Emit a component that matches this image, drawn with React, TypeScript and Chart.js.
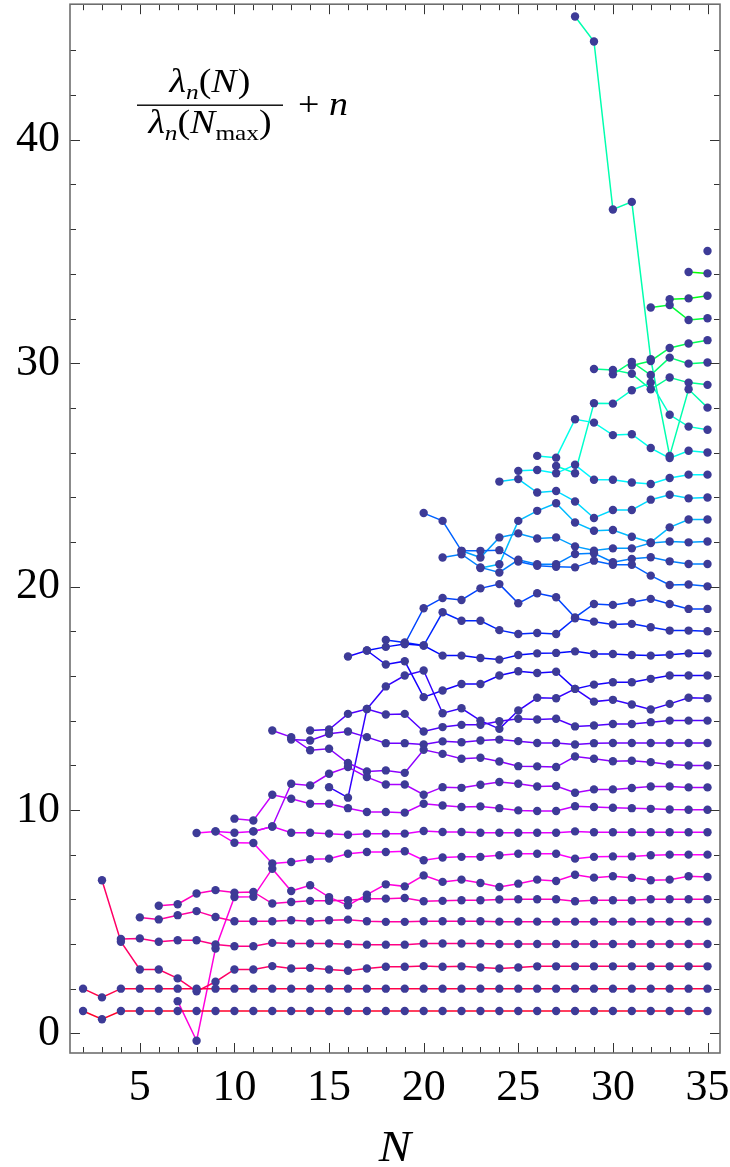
import React, { useEffect, useRef } from "react";
import { Chart, registerables } from "chart.js";

Chart.register(...registerables);

// ---- axes ----
const xTickLabels = [5, 10, 15, 20, 25, 30, 35];
const yTickLabels = [0, 10, 20, 30, 40];
const xMinorTicks = [2, 3, 4, 5, 6, 7, 8, 9, 10, 11, 12, 13, 14, 15, 16, 17, 18, 19, 20, 21, 22, 23, 24, 25, 26, 27, 28, 29, 30, 31, 32, 33, 34, 35];
const yMinorTicks = [0, 2, 4, 6, 8, 10, 12, 14, 16, 18, 20, 22, 24, 26, 28, 30, 32, 34, 36, 38, 40, 42, 44];

// ---- first N of each series n ----
const seriesStartN = [2, 2, 3, 4, 5, 6, 7, 8, 9, 10, 11, 12, 13, 14, 15, 16, 17, 18, 19, 20, 21, 22, 23, 24, 25, 26, 27, 28, 29, 30, 31, 32, 33, 34, 35];

// ---- values lambda_n(N)/lambda_n(Nmax) + n, from the first N up to N = 35 ----
const s0 = [1.0, 0.63, 1.0, 1.0, 1.0, 1.0, 1.0, 1.0, 1.0, 1.0, 1.0, 1.0, 1.0, 1.0, 1.0, 1.0, 1.0, 1.0, 1.0, 1.0, 1.0, 1.0, 1.0, 1.0, 1.0, 1.0, 1.0, 1.0, 1.0, 1.0, 1.0, 1.0, 1.0, 1.0];
const s1 = [2.0, 1.61, 2.0, 2.0, 2.0, 2.0, 2.0, 2.0, 2.0, 2.0, 2.0, 2.0, 2.0, 2.0, 2.0, 2.0, 2.0, 2.0, 2.0, 2.0, 2.0, 2.0, 2.0, 2.0, 2.0, 2.0, 2.0, 2.0, 2.0, 2.0, 2.0, 2.0, 2.0, 2.0];
const s2 = [6.85, 4.1, 2.86, 2.86, 2.46, 1.88, 2.31, 2.86, 2.86, 3.01, 2.9, 2.93, 2.86, 2.8, 2.9, 2.98, 2.98, 3.01, 2.98, 3.0, 2.95, 2.9, 2.95, 3.0, 3.0, 3.0, 3.0, 3.0, 3.0, 3.0, 3.0, 3.0, 3.0];
const s3 = [4.22, 4.25, 4.1, 4.17, 4.17, 3.98, 3.9, 3.9, 4.05, 4.02, 4.02, 4.02, 3.99, 3.97, 3.97, 3.97, 4.02, 4.02, 4.02, 4.02, 4.0, 4.0, 4.0, 4.0, 4.0, 4.0, 4.0, 4.0, 4.0, 4.0, 4.0, 4.0];
const s4 = [5.19, 5.1, 5.29, 5.47, 5.21, 5.02, 5.02, 5.02, 5.06, 5.02, 5.06, 5.09, 5.02, 4.99, 4.99, 5.02, 5.02, 5.02, 5.02, 5.0, 5.0, 5.0, 5.0, 5.0, 5.0, 5.0, 5.0, 5.0, 5.0, 5.0, 5.0];
const s5 = [5.71, 5.78, 6.26, 6.41, 6.3, 6.33, 5.81, 5.88, 5.93, 5.93, 5.96, 6.03, 6.03, 6.06, 5.91, 5.93, 5.96, 5.96, 5.99, 6.0, 6.0, 6.0, 5.91, 5.96, 5.96, 5.96, 6.0, 6.0, 6.0, 6.0];
const s6 = [1.44, -0.33, 3.8, 6.1, 6.11, 7.37, 6.37, 6.63, 6.1, 5.73, 6.21, 6.67, 6.58, 7.07, 6.78, 6.88, 6.73, 6.55, 6.7, 6.88, 6.82, 7.1, 6.97, 7.03, 6.96, 6.85, 6.88, 7.03, 7.0];
const s7 = [8.97, 9.04, 8.53, 8.52, 7.6, 7.67, 7.79, 7.82, 8.04, 8.12, 8.12, 8.15, 7.75, 7.87, 7.9, 7.9, 7.97, 8.04, 8.04, 8.04, 7.82, 7.9, 7.92, 7.92, 7.97, 8.0, 8.0, 8.0];
const s8 = [9.04, 8.98, 9.04, 9.26, 8.98, 8.98, 8.94, 8.89, 8.94, 8.94, 8.94, 9.06, 9.01, 9.01, 8.98, 8.98, 8.98, 8.98, 8.98, 9.04, 9.0, 9.0, 9.0, 9.0, 9.0, 9.0, 9.0];
const s9 = [9.61, 9.53, 10.68, 10.5, 10.28, 10.28, 10.08, 9.91, 9.91, 9.88, 10.28, 10.2, 10.13, 10.16, 10.08, 9.98, 9.95, 9.95, 10.17, 10.13, 10.1, 10.08, 10.05, 10.02, 10.01, 10.01];
const s10 = [9.04, 9.26, 11.17, 11.1, 11.62, 11.92, 11.47, 11.14, 11.14, 10.68, 11.02, 10.99, 11.13, 11.25, 11.17, 11.05, 11.07, 10.77, 10.92, 10.92, 10.98, 11.05, 11.05, 11.01, 11.01];
const s11 = [13.56, 13.26, 12.67, 12.74, 12.1, 11.72, 11.77, 11.66, 12.69, 12.51, 12.29, 12.34, 12.17, 11.96, 11.95, 11.92, 12.39, 12.29, 12.18, 12.2, 12.14, 12.04, 11.99, 11.99];
const s12 = [13.15, 13.11, 13.41, 13.51, 13.26, 12.99, 12.99, 12.93, 13.07, 13.03, 13.11, 13.15, 13.08, 13.0, 13.0, 12.93, 12.99, 13.0, 13.0, 13.0, 13.0, 13.0, 13.0];
const s13 = [13.56, 13.6, 14.3, 14.52, 14.27, 14.3, 13.51, 13.71, 13.81, 13.81, 13.97, 14.08, 14.05, 14.08, 13.74, 13.78, 13.85, 13.85, 13.93, 14.0, 14.0, 14.0];
const s14 = [11.02, 10.55, 14.52, 15.53, 16.02, 16.24, 14.33, 14.55, 14.0, 13.63, 14.45, 15.02, 15.0, 15.42, 14.85, 14.93, 14.72, 14.5, 14.75, 15.02, 15.0];
const s15 = [16.87, 17.14, 16.51, 16.66, 15.05, 15.35, 15.64, 15.64, 16.02, 16.21, 16.13, 16.19, 15.42, 15.61, 15.72, 15.72, 15.87, 16.02, 16.02, 16.02];
const s16 = [17.14, 17.3, 17.43, 17.36, 16.91, 16.91, 16.8, 16.73, 16.94, 17.01, 17.03, 17.1, 16.98, 16.98, 16.94, 16.91, 16.95, 17.01, 17.01];
const s17 = [17.61, 17.5, 17.36, 18.85, 18.47, 18.47, 18.05, 17.88, 17.92, 17.88, 18.58, 18.43, 18.3, 18.33, 18.18, 18.03, 18.03, 18.0];
const s18 = [17.43, 19.03, 19.49, 19.4, 19.92, 20.11, 19.25, 19.7, 19.52, 18.62, 19.22, 19.18, 19.3, 19.45, 19.22, 19.0, 19.0];
const s19 = [23.29, 22.94, 21.6, 21.6, 21.63, 21.12, 20.93, 20.89, 20.86, 21.16, 20.98, 20.98, 20.49, 20.07, 20.09, 20.01];
const s20 = [21.3, 21.45, 20.86, 20.63, 21.2, 21.0, 21.0, 21.46, 21.49, 21.09, 21.24, 21.31, 21.13, 21.01, 21.01];
const s21 = [21.6, 21.3, 22.2, 22.38, 22.15, 22.2, 21.8, 21.61, 21.71, 21.71, 21.95, 22.02, 21.98, 22.02];
const s22 = [20.83, 21.0, 22.94, 23.39, 23.73, 22.87, 22.5, 22.53, 22.23, 21.98, 22.65, 23.0, 23.0];
const s23 = [24.7, 24.81, 24.21, 24.28, 23.81, 23.07, 23.43, 23.43, 23.89, 24.11, 23.95, 23.99];
const s24 = [25.18, 25.22, 25.07, 25.45, 24.78, 24.78, 24.66, 24.59, 24.86, 25.01, 25.01];
const s25 = [25.85, 25.77, 27.49, 27.34, 26.78, 26.82, 26.2, 25.75, 26.08, 26.0];
const s26 = [25.4, 25.07, 28.21, 28.19, 28.79, 29.13, 27.69, 27.16, 27.02];
const s27 = [45.52, 44.4, 36.88, 37.22, 30.18, 25.85, 28.83, 28.01];
const s28 = [29.74, 29.7, 29.53, 28.83, 29.36, 29.13, 29.03];
const s29 = [29.5, 30.06, 29.47, 30.25, 29.98, 30.03];
const s30 = [29.9, 30.1, 30.68, 30.88, 31.03];
const s31 = [32.49, 32.6, 31.93, 32.01];
const s32 = [32.86, 32.9, 33.02];
const s33 = [34.08, 34.02];
const s34 = [35.02];

const seriesValues = [s0, s1, s2, s3, s4, s5, s6, s7, s8, s9, s10, s11, s12, s13, s14, s15, s16, s17, s18, s19, s20, s21, s22, s23, s24, s25, s26, s27, s28, s29, s30, s31, s32, s33, s34];

const FONT = "'Liberation Serif', 'DejaVu Serif', serif";
const POINT_COLOR = "#3d3b97";

function seriesColor(k: number): string {
  const hue = (350 - 7 * k + 360) % 360;
  return `hsl(${hue}, 100%, 50%)`;
}

function drawPieces(ctx: CanvasRenderingContext2D, pieces: { t: string; f: string; dy?: number; gap?: number }[], cx: number, baseline: number, sx: number) {
  let total = 0;
  const widths = pieces.map((p) => {
    ctx.font = p.f;
    const w = ctx.measureText(p.t).width + (p.gap || 0);
    total += w;
    return w;
  });
  let x = cx - (total * sx) / 2;
  pieces.forEach((p, i) => {
    ctx.save();
    ctx.font = p.f;
    ctx.translate(x, baseline + (p.dy || 0));
    ctx.scale(sx, 1);
    ctx.fillText(p.t, 0, 0);
    ctx.restore();
    x += widths[i] * sx;
  });
  return total * sx;
}

const decorPlugin = {
  id: "decor",
  afterDraw(chart: any) {
    const { ctx, chartArea } = chart;
    const { left, right, top, bottom } = chartArea;
    const xs = chart.scales.x;
    const ys = chart.scales.y;
    ctx.save();
    // ticks (inward, all four sides)
    ctx.strokeStyle = "#333";
    ctx.lineWidth = 1;
    ctx.beginPath();
    xMinorTicks.forEach((v) => {
      const px = Math.round(xs.getPixelForValue(v)) + 0.5;
      const len = xTickLabels.includes(v) ? 10 : 6;
      ctx.moveTo(px, bottom);
      ctx.lineTo(px, bottom - len);
      ctx.moveTo(px, top);
      ctx.lineTo(px, top + len);
    });
    yMinorTicks.forEach((v) => {
      const py = Math.round(ys.getPixelForValue(v)) + 0.5;
      const len = yTickLabels.includes(v) ? 10 : 6;
      ctx.moveTo(left, py);
      ctx.lineTo(left + len, py);
      ctx.moveTo(right, py);
      ctx.lineTo(right - len, py);
    });
    ctx.stroke();
    // frame
    ctx.strokeStyle = "#6e6e6e";
    ctx.lineWidth = 1.6;
    ctx.strokeRect(left, top, right - left, bottom - top);

    // axis label N
    ctx.fillStyle = "#000";
    ctx.textAlign = "left";
    ctx.textBaseline = "alphabetic";
    drawPieces(ctx, [{ t: "N", f: `italic 44px ${FONT}` }], (left + right) / 2, 1161, 1.1);

    // formula label
    const cx = 210;
    const sx = 1.15;
    drawPieces(
      ctx,
      [
        { t: "λ", f: `italic 33px ${FONT}` },
        { t: "n", f: `italic 22px ${FONT}`, dy: 7 },
        { t: "(", f: `33px ${FONT}` },
        { t: "N", f: `italic 33px ${FONT}`, gap: 1 },
        { t: ")", f: `33px ${FONT}` },
      ],
      cx,
      92,
      sx
    );
    drawPieces(
      ctx,
      [
        { t: "λ", f: `italic 33px ${FONT}` },
        { t: "n", f: `italic 22px ${FONT}`, dy: 7 },
        { t: "(", f: `33px ${FONT}` },
        { t: "N", f: `italic 33px ${FONT}` },
        { t: "max", f: `22px ${FONT}`, dy: 7 },
        { t: ")", f: `33px ${FONT}` },
      ],
      cx,
      133,
      sx
    );
    ctx.fillRect(137, 104.5, 146, 1.4);
    drawPieces(
      ctx,
      [
        { t: "+ ", f: `33px ${FONT}` },
        { t: "n", f: `italic 33px ${FONT}` },
      ],
      323,
      115,
      sx
    );
    ctx.restore();
  },
};

export default function App() {
  const canvasRef = useRef<HTMLCanvasElement | null>(null);

  useEffect(() => {
    if (!canvasRef.current) return;
    const lineSets = seriesValues.map((vals, k) => ({
      data: vals.map((v, i) => ({ x: seriesStartN[k] + i, y: v })),
      showLine: true,
      borderColor: seriesColor(k),
      backgroundColor: seriesColor(k),
      borderWidth: 1.5,
      pointRadius: 0,
      pointHoverRadius: 0,
      fill: false,
      tension: 0,
      order: 1,
    }));
    const pointSets = seriesValues.map((vals, k) => ({
      data: vals.map((v, i) => ({ x: seriesStartN[k] + i, y: v })),
      showLine: false,
      pointRadius: 4.2,
      pointHoverRadius: 4.2,
      pointBorderWidth: 0,
      pointBackgroundColor: POINT_COLOR,
      borderColor: POINT_COLOR,
      order: 0,
    }));

    const chart = new Chart(canvasRef.current, {
      type: "scatter",
      data: { datasets: [...lineSets, ...pointSets] as any },
      options: {
        animation: false,
        responsive: false,
        devicePixelRatio: 1,
        events: [],
        layout: { padding: { top: 3, right: 10, left: 0, bottom: 0 } },
        plugins: { legend: { display: false }, tooltip: { enabled: false } },
        scales: {
          x: {
            type: "linear",
            min: 1.31,
            max: 35.66,
            grid: { display: false },
            border: { display: false },
            afterBuildTicks: (scale: any) => {
              scale.ticks = xTickLabels.map((v) => ({ value: v }));
            },
            afterFit: (scale: any) => {
              scale.height = 114;
              scale.paddingLeft = 0;
              scale.paddingRight = 0;
              scale.paddingTop = 0;
              scale.paddingBottom = 0;
            },
            ticks: {
              autoSkip: false,
              maxRotation: 0,
              padding: 1,
              color: "#000",
              font: { family: FONT, size: 44 },
              callback: (v: any) => String(v),
            },
          },
          y: {
            type: "linear",
            min: -0.88,
            max: 46.07,
            grid: { display: false },
            border: { display: false },
            afterBuildTicks: (scale: any) => {
              scale.ticks = yTickLabels.map((v) => ({ value: v }));
            },
            afterFit: (scale: any) => {
              scale.width = 70;
              scale.paddingLeft = 0;
              scale.paddingRight = 0;
              scale.paddingTop = 0;
              scale.paddingBottom = 0;
            },
            ticks: {
              autoSkip: false,
              padding: 2,
              color: "#000",
              font: { family: FONT, size: 44 },
              callback: (v: any) => String(v),
            },
          },
        },
      },
      plugins: [decorPlugin],
    });
    return () => chart.destroy();
  }, []);

  return (
    <div style={{ position: "absolute", left: 0, top: 0, width: 730, height: 1167, background: "#fff" }}>
      <canvas ref={canvasRef} width={730} height={1167} style={{ display: "block", width: 730, height: 1167 }} />
    </div>
  );
}
